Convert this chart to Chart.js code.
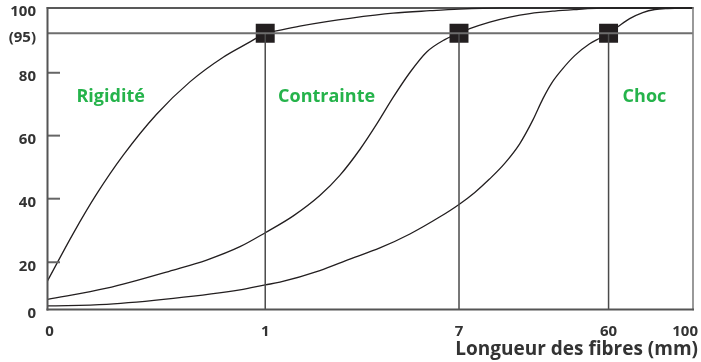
<!DOCTYPE html>
<html>
<head>
<meta charset="utf-8">
<script src="https://cdn.jsdelivr.net/npm/chart.js@4"></script>
<style>
  html, body { margin: 0; padding: 0; background: #ffffff; }
  #c { display: block; }
</style>
</head>
<body>
<canvas id="c" width="701" height="362"></canvas>
<script>
// ---------- DATA ----------
const xTickValues = [0, 1, 7, 60, 100];
const xTickLabels = ['0', '1', '7', '60', '100'];
const yTickValues = [0, 20, 40, 60, 80, 95, 100];
const yTickLabels = ['0', '20', '40', '60', '80', '(95)', '100'];
const xTitle = 'Longueur des fibres (mm)';

const thresholdPct = 95;
const thresholdLengths = [1, 7, 60];

const zoneNames = ['Rigidité', 'Contrainte', 'Choc'];

const rigiditeX = [0, 0.1185, 0.226, 0.348, 0.501, 0.654, 0.807, 0.930, 1, 1.30, 2.07, 2.90, 3.62, 4.96, 6.10, 7.03, 21.5, 100];
const rigiditeY = [12.1, 29.1, 41.5, 53.8, 66.8, 77.1, 85.9, 91.7, 95, 95.4, 96.4, 97.3, 97.96, 98.97, 99.46, 99.78, 100, 100];

const contrainteX = [0, 0.272, 0.578, 0.731, 0.884, 1, 1.87, 2.69, 3.31, 3.93, 4.46, 4.95, 5.48, 6.00, 6.56, 7, 10.8, 17.9, 25.0, 32.1, 40.9, 48.7, 56.9, 65.3, 100];
const contrainteY = [4.3, 9.0, 16.7, 20.7, 24.9, 29.3, 34.6, 41.0, 47.4, 55.6, 63.8, 72.0, 80.1, 87.9, 92.6, 95, 95.9, 97.2, 98.2, 98.9, 99.4, 99.7, 99.96, 100, 100];

const chocX = [0, 0.272, 0.578, 0.884, 1, 1.455, 2.69, 3.62, 4.55, 5.48, 6.41, 7, 12.6, 17.9, 23.2, 28.5, 33.2, 36.7, 39.9, 43.4, 48.0, 53.3, 56.9, 60, 64.4, 70.0, 76.2, 81.9, 88.0, 100];
const chocY = [1.5, 2.2, 4.7, 8.3, 10.4, 11.6, 16.5, 21.0, 24.5, 28.9, 34.3, 38.2, 42.0, 46.3, 51.2, 57.4, 65.0, 71.7, 76.8, 81.1, 86.5, 91.0, 93.1, 95, 96.3, 97.9, 99.1, 99.7, 99.9, 100];

// ---------- AXIS LAYOUT (piecewise scale: value -> fraction of axis length) ----------
const axisLayout = {
  x: { values: [0, 1, 7, 60, 100], fractions: [0, 0.3373, 0.6375, 0.8692, 1] },
  y: { values: [0, 20, 40, 60, 80, 95, 100], fractions: [0, 0.1567, 0.3675, 0.5767, 0.7852, 0.9163, 1] }
};

class PiecewiseScale extends Chart.LinearScale {
  _bp() { return axisLayout[this.id]; }
  _toDecimal(value) {
    const bp = this._bp();
    const vs = bp.values, fs = bp.fractions;
    if (value <= vs[0]) return fs[0];
    for (let i = 1; i < vs.length; i++) {
      if (value <= vs[i]) {
        return fs[i - 1] + (value - vs[i - 1]) / (vs[i] - vs[i - 1]) * (fs[i] - fs[i - 1]);
      }
    }
    return fs[fs.length - 1];
  }
  getPixelForValue(value) {
    if (value === null || value === undefined || isNaN(value)) return NaN;
    return this.getPixelForDecimal(this._toDecimal(value));
  }
  getValueForPixel(pixel) {
    const d = this.getDecimalForPixel(pixel);
    const bp = this._bp();
    const vs = bp.values, fs = bp.fractions;
    for (let i = 1; i < fs.length; i++) {
      if (d <= fs[i]) {
        return vs[i - 1] + (d - fs[i - 1]) / (fs[i] - fs[i - 1]) * (vs[i] - vs[i - 1]);
      }
    }
    return vs[vs.length - 1];
  }
}
PiecewiseScale.id = 'piecewise';
PiecewiseScale.defaults = Chart.LinearScale.defaults;
Chart.register(PiecewiseScale);

const toPoints = (xs, ys) => xs.map((x, i) => ({ x: x, y: ys[i] }));

const FONT = "'Open Sans', 'DejaVu Sans', sans-serif";

const frameAndText = {
  id: 'frameAndText',
  afterDatasetsDraw(chart, args, opts) {
    const { ctx, chartArea: a, scales } = chart;
    const xs = scales.x, ys = scales.y;
    ctx.save();
    // y tick marks inside the plot
    ctx.strokeStyle = '#666666';
    ctx.lineWidth = 2;
    yTickValues.forEach(v => {
      if (v === 0 || v === thresholdPct || v === 100) return;
      const py = ys.getPixelForValue(v);
      ctx.beginPath(); ctx.moveTo(a.left, py); ctx.lineTo(a.left + 12.5, py); ctx.stroke();
    });
    // frame
    ctx.lineCap = 'square';
    ctx.strokeStyle = '#222222'; ctx.lineWidth = 1.6;
    ctx.beginPath(); ctx.moveTo(a.left, a.top); ctx.lineTo(a.right, a.top); ctx.stroke();
    ctx.strokeStyle = '#808080'; ctx.lineWidth = 1.6;
    ctx.beginPath(); ctx.moveTo(a.right, a.top); ctx.lineTo(a.right, a.bottom); ctx.stroke();
    ctx.strokeStyle = '#555555'; ctx.lineWidth = 2;
    ctx.beginPath(); ctx.moveTo(a.left, a.top); ctx.lineTo(a.left, a.bottom); ctx.stroke();
    ctx.beginPath(); ctx.moveTo(a.left, a.bottom); ctx.lineTo(a.right, a.bottom); ctx.stroke();

    // zone labels
    ctx.fillStyle = opts.zoneColor;
    ctx.font = 'bold 18px ' + FONT;
    ctx.textAlign = 'center';
    ctx.textBaseline = 'middle';
    zoneNames.forEach((name, i) => {
      const p = opts.zoneAnchors[i];
      ctx.fillText(name, xs.getPixelForValue(p.x), ys.getPixelForValue(p.y));
    });

    // x tick labels
    ctx.fillStyle = '#333333';
    ctx.font = 'bold 15px ' + FONT;
    const W = chart.width;
    xTickValues.forEach((v, i) => {
      const label = xTickLabels[i];
      const w = ctx.measureText(label).width;
      let px = xs.getPixelForValue(v) + (i === 0 ? 2 : 0);
      px = Math.min(px, W - 3 - w / 2);
      ctx.fillText(label, px, a.bottom + 22);
    });

    // x title
    ctx.font = 'bold 19px ' + FONT;
    ctx.textAlign = 'right';
    ctx.fillText(xTitle, W - 3, a.bottom + 40);
    ctx.restore();
  }
};

const datasets = [];
datasets.push({
  label: 'seuil',
  data: [{ x: 0, y: thresholdPct }, { x: 100, y: thresholdPct }],
  borderColor: '#6e6e6e', borderWidth: 2, pointRadius: 0, tension: 0
});
thresholdLengths.forEach(L => {
  datasets.push({
    label: 'v' + L,
    data: [{ x: L, y: 0 }, { x: L, y: thresholdPct }],
    borderColor: '#4a4a4a', borderWidth: 1.5, pointRadius: 0, tension: 0
  });
});
[[rigiditeX, rigiditeY], [contrainteX, contrainteY], [chocX, chocY]].forEach((c, i) => {
  datasets.push({
    label: zoneNames[i],
    data: toPoints(c[0], c[1]),
    borderColor: '#231f20', borderWidth: 1.3, pointRadius: 0,
    cubicInterpolationMode: 'monotone', clip: 4
  });
});
datasets.push({
  label: 'points',
  data: thresholdLengths.map(L => ({ x: L, y: thresholdPct })),
  showLine: false,
  pointStyle: 'rect', pointRadius: 13.4,
  pointBackgroundColor: '#231f20', pointBorderColor: '#231f20', pointBorderWidth: 0
});

new Chart(document.getElementById('c'), {
  type: 'line',
  data: { datasets },
  options: {
    responsive: false,
    devicePixelRatio: 1,
    animation: false,
    events: [],
    layout: { padding: { top: 8, right: 8, left: 0, bottom: 0 }, autoPadding: false },
    plugins: {
      legend: { display: false },
      tooltip: { enabled: false },
      frameAndText: {
        zoneColor: '#25b34b',
        zoneAnchors: [{ x: 0.29, y: 72.3 }, { x: 2.9, y: 72.3 }, { x: 77, y: 72.3 }]
      }
    },
    scales: {
      x: {
        type: 'piecewise', min: 0, max: 100, position: 'bottom',
        grid: { display: false, drawTicks: false },
        border: { display: false },
        ticks: { display: false },
        afterBuildTicks: s => { s.ticks = xTickValues.map(v => ({ value: v })); },
        afterFit: s => { s.height = 52.5; s.paddingLeft = 0; s.paddingRight = 0; }
      },
      y: {
        type: 'piecewise', min: 0, max: 100, position: 'left',
        grid: { display: false, drawTicks: false },
        border: { display: false },
        ticks: {
          padding: 11.5, labelOffset: 4, color: '#333333',
          font: { family: FONT, size: 15, weight: 'bold' },
          callback: v => yTickLabels[yTickValues.indexOf(v)]
        },
        afterBuildTicks: s => { s.ticks = yTickValues.map(v => ({ value: v })); },
        afterFit: s => { s.width = 47.5; s.paddingTop = 0; s.paddingBottom = 0; }
      }
    }
  },
  plugins: [frameAndText]
});
</script>
</body>
</html>
